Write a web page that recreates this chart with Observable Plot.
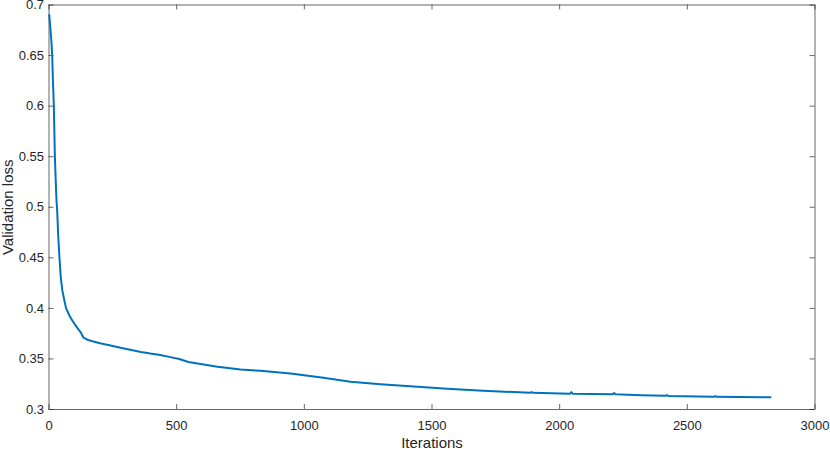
<!DOCTYPE html>
<html>
<head>
<meta charset="utf-8">
<script src="https://cdn.jsdelivr.net/npm/d3@7"></script>
<script src="https://cdn.jsdelivr.net/npm/@observablehq/plot@0.6"></script>
<style>
  html, body { margin: 0; padding: 0; background: #fff; }
  svg { display: block; }
</style>
</head>
<body>
<div id="chart"></div>
<script>
const iterations = [1, 6, 10, 12.5, 15, 19, 23, 28, 30, 32, 36, 41, 46, 52, 60, 67, 80, 91, 110, 125, 135, 150, 170, 200, 241, 280, 318, 360, 397, 430, 476, 510, 546, 600, 660, 750, 828, 946, 1075, 1181, 1298, 1400, 1560, 1700, 1886, 1890, 1896, 2040, 2046, 2052, 2208, 2213, 2220, 2317, 2415, 2420, 2426, 2603, 2610, 2616, 2700, 2826];
const loss = [0.690, 0.675, 0.662, 0.650, 0.628, 0.600, 0.550, 0.515, 0.504, 0.497, 0.472, 0.450, 0.431, 0.418, 0.408, 0.400, 0.393, 0.388, 0.381, 0.376, 0.371, 0.369, 0.3675, 0.3655, 0.3633, 0.3610, 0.3590, 0.3568, 0.3553, 0.3542, 0.3518, 0.3500, 0.3470, 0.3448, 0.3422, 0.3395, 0.3382, 0.3355, 0.3315, 0.3275, 0.3250, 0.3233, 0.3205, 0.3185, 0.3166, 0.3172, 0.3165, 0.3156, 0.3172, 0.3155, 0.3151, 0.3163, 0.3150, 0.3142, 0.3135, 0.3142, 0.3134, 0.3126, 0.3131, 0.3125, 0.3123, 0.3122];

const xTicks = [0, 500, 1000, 1500, 2000, 2500, 3000];
const yTicks = [0.3, 0.35, 0.4, 0.45, 0.5, 0.55, 0.6, 0.65, 0.7];
const xLabel = "Iterations";
const yLabel = "Validation loss";

const data = iterations.map((x, i) => ({x, y: loss[i]}));

const axisColor = "#262626";
const W = 830, H = 449;
const mL = 48.5, mR = 15.5, mT = 4.5, mB = 40;
const innerH = H - mT - mB;
const innerW = W - mL - mR;
const tickLen = 5;

const chart = Plot.plot({
  width: W,
  height: H,
  marginLeft: mL,
  marginRight: mR,
  marginTop: mT,
  marginBottom: mB,
  style: {fontFamily: "'Liberation Sans', Arial, Helvetica, sans-serif", fontSize: "13px", color: axisColor, background: "#fff", overflow: "visible"},
  x: {domain: [0, 3000], ticks: xTicks},
  y: {domain: [0.3, 0.7], ticks: yTicks},
  marks: [
    // tick marks (inward) on all four sides
    Plot.tickX(xTicks, {x: d => d, stroke: axisColor, strokeWidth: 0.7, insetTop: innerH - tickLen}),
    Plot.tickX(xTicks, {x: d => d, stroke: axisColor, strokeWidth: 0.7, insetBottom: innerH - tickLen}),
    Plot.tickY(yTicks, {y: d => d, stroke: axisColor, strokeWidth: 0.7, insetRight: innerW - tickLen}),
    Plot.tickY(yTicks, {y: d => d, stroke: axisColor, strokeWidth: 0.7, insetLeft: innerW - tickLen}),
    Plot.axisX(xTicks, {tickSize: 0, tickPadding: 11, label: null, fontSize: 13, fill: axisColor, tickFormat: d => String(d)}),
    Plot.axisY(yTicks, {tickSize: 0, tickPadding: 5, label: null, fontSize: 13, fill: axisColor, tickFormat: d => String(+d.toFixed(2))}),
    Plot.text([xLabel], {text: d => d, frameAnchor: "bottom", lineAnchor: "middle", textAnchor: "middle", dy: 34, fontSize: 15, fill: axisColor}),
    Plot.text([yLabel], {text: d => d, frameAnchor: "left", lineAnchor: "middle", textAnchor: "middle", rotate: -90, dx: -41, fontSize: 15, fill: axisColor}),
    Plot.frame({stroke: axisColor, strokeWidth: 0.7}),
    Plot.line(data, {x: "x", y: "y", stroke: "#0072BD", strokeWidth: 2, curve: "linear"})
  ]
});
document.getElementById("chart").appendChild(chart);
</script>
</body>
</html>
